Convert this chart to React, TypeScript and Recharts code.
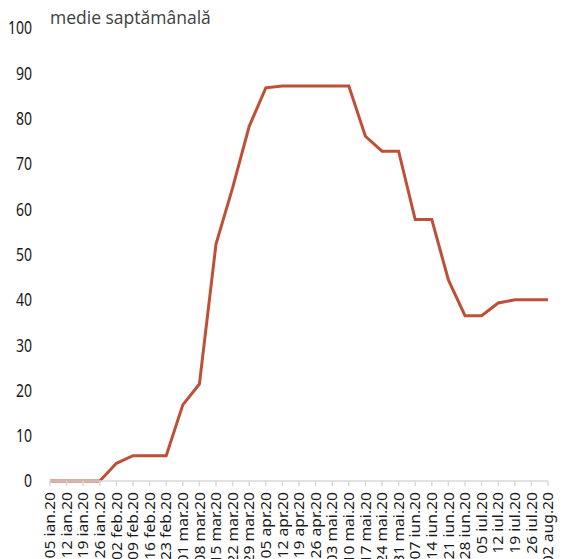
import { LineChart, Line, XAxis, YAxis } from 'recharts';

const weeks = [
  '05 ian.20', '12 ian.20', '19 ian.20', '26 ian.20', '02 feb.20', '09 feb.20',
  '16 feb.20', '23 feb.20', '01 mar.20', '08 mar.20', '15 mar.20', '22 mar.20',
  '29 mar.20', '05 apr.20', '12 apr.20', '19 apr.20', '26 apr.20', '03 mai.20',
  '10 mai.20', '17 mai.20', '24 mai.20', '31 mai.20', '07 iun.20', '14 iun.20',
  '21 iun.20', '28 iun.20', '05 iul.20', '12 iul.20', '19 iul.20', '26 iul.20',
  '02 aug.20',
];

const values = [
  0, 0, 0, 0, 3.9, 5.6, 5.6, 5.6, 16.8, 21.4, 52.3, 64.7, 78.3, 86.8, 87.2, 87.2,
  87.2, 87.2, 87.2, 76.1, 72.8, 72.8, 57.7, 57.7, 44.4, 36.5, 36.5, 39.3, 40.0,
  40.0, 40.0,
];

const yTicks = [0, 10, 20, 30, 40, 50, 60, 70, 80, 90, 100];

const data = weeks.map((w, i) => ({ week: w, value: values[i] }));

const font = "'Noto Sans', 'Open Sans', sans-serif";

// rotated week labels, reading bottom to top
const WeekTick = (props: any) => {
  const { x, y, payload } = props;
  return (
    <text
      transform={`translate(${x},${y + 4}) rotate(-90) scale(1.08,1)`}
      textAnchor="end"
      dy="0.36em"
      fontSize={14.5}
      fill="#1a1a1a"
      fontFamily={font}
    >
      {payload.value}
    </text>
  );
};

// tall narrow numbers like the condensed font of the original
const ValueTick = (props: any) => {
  const { x, y, payload } = props;
  return (
    <text
      transform={`translate(${x},${y}) scale(0.78,1)`}
      textAnchor="end"
      dy="0.36em"
      fontSize={18}
      fill="#1a1a1a"
      fontFamily={font}
    >
      {payload.value}
    </text>
  );
};

export default function App() {
  return (
    <div style={{ position: 'absolute', left: 0, top: 0, width: 564, height: 559, background: '#fff' }}>
      <div
        style={{
          position: 'absolute',
          left: 50,
          top: 5,
          fontFamily: "'Open Sans', 'Noto Sans', sans-serif",
          fontSize: 17.5,
          color: '#404040',
          zIndex: 1,
        }}
      >
        medie saptămânală
      </div>
      <LineChart width={564} height={559} data={data} margin={{ top: 28, right: 16, bottom: 0, left: 0 }}>
        <XAxis
          dataKey="week"
          interval={0}
          height={78}
          stroke="#d9d9d9"
          strokeWidth={1.5}
          tickSize={5}
          tick={<WeekTick />}
        />
        <YAxis
          domain={[0, 100]}
          ticks={yTicks}
          width={50}
          axisLine={false}
          tickLine={false}
          tickSize={0}
          tickMargin={18}
          tick={<ValueTick />}
        />
        <Line
          dataKey="value"
          type="linear"
          stroke="#BE5038"
          strokeWidth={3}
          dot={false}
          isAnimationActive={false}
        />
      </LineChart>
    </div>
  );
}
